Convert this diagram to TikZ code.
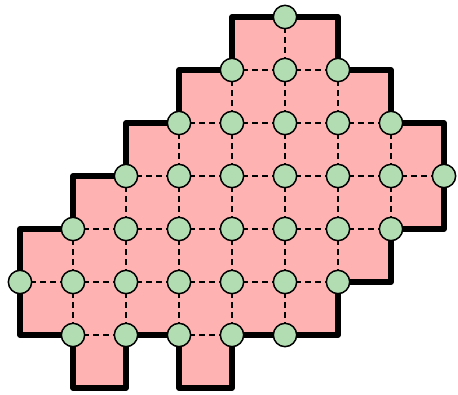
\documentclass[tikz,border=0pt]{standalone}
\usetikzlibrary{backgrounds}
\definecolor{cellpink}{RGB}{255,178,178}
\definecolor{dotgreen}{RGB}{178,221,178}
\tikzset{
  dot/.style={circle,draw=black,fill=dotgreen,line width=0.8pt,minimum size=0.44cm,inner sep=0pt},
  gridline/.style={line width=0.8pt,dash pattern=on 3.2pt off 2.2pt},
  outline/.style={line width=2.95pt,line join=round,line cap=round},
}
\begin{document}
\begin{tikzpicture}[x=1cm,y=1cm]
\useasboundingbox (-0.3774,0.3208) rectangle (8.2642,-7.1321);
% circles
\foreach \j/\list in {0/{5},1/{4,5,6},2/{3,4,5,6,7},3/{2,3,4,5,6,7,8},4/{1,2,3,4,5,6,7},5/{0,1,2,3,4,5,6},6/{1,2,3,4,5}}{
  \foreach \i in \list {\node[dot] (c-\i-\j) at (\i,-\j) {};}
}
\begin{scope}[on background layer]
% region
\fill[cellpink] (4,0) -- (6,0) -- (6,-1) -- (7,-1) -- (7,-2) -- (8,-2) -- (8,-4) -- (7,-4) -- (7,-5) -- (6,-5) -- (6,-6) -- (4,-6) -- (4,-7) -- (3,-7) -- (3,-6) -- (2,-6) -- (2,-7) -- (1,-7) -- (1,-6) -- (0,-6) -- (0,-4) -- (1,-4) -- (1,-3) -- (2,-3) -- (2,-2) -- (3,-2) -- (3,-1) -- (4,-1) -- cycle;
% horizontal dashed edges
\foreach \j/\list in {1/{4,5},2/{3,4,5,6},3/{2,3,4,5,6,7},4/{1,2,3,4,5,6},5/{0,1,2,3,4,5},6/{1,3}}{
  \foreach \i [evaluate=\i as \k using int(\i+1)] in \list {\draw[gridline] (c-\i-\j.center) -- (c-\k-\j.center);}
}
% vertical dashed edges
\foreach \i/\list in {1/{4,5},2/{3,4,5},3/{2,3,4,5},4/{1,2,3,4,5},5/{0,1,2,3,4,5},6/{1,2,3,4},7/{2,3}}{
  \foreach \j [evaluate=\j as \k using int(\j+1)] in \list {\draw[gridline] (c-\i-\j.center) -- (c-\i-\k.center);}
}
% boundary
\draw[outline] (4,0) -- (6,0) -- (6,-1) -- (7,-1) -- (7,-2) -- (8,-2) -- (8,-4) -- (7,-4) -- (7,-5) -- (6,-5) -- (6,-6) -- (4,-6) -- (4,-7) -- (3,-7) -- (3,-6) -- (2,-6) -- (2,-7) -- (1,-7) -- (1,-6) -- (0,-6) -- (0,-4) -- (1,-4) -- (1,-3) -- (2,-3) -- (2,-2) -- (3,-2) -- (3,-1) -- (4,-1) -- cycle;
\end{scope}
\end{tikzpicture}
\end{document}
